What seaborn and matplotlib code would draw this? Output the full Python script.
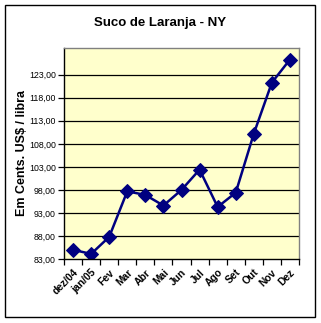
import matplotlib
matplotlib.use("Agg")
import matplotlib.pyplot as plt
import matplotlib.transforms as mtransforms
import seaborn as sns
import pandas as pd
from matplotlib.patches import Rectangle

months = ["dez/04", "jan/05", "Fev", "Mar", "Abr", "Mai", "Jun", "Jul", "Ago", "Set", "Out", "Nov", "Dez"]
prices = [85.0, 84.1, 87.8, 97.7, 96.9, 94.6, 98.0, 102.4, 94.3, 97.4, 110.2, 121.3, 126.3]
yticks = [83, 88, 93, 98, 103, 108, 113, 118, 123]
ytick_labels = ["83,00", "88,00", "93,00", "98,00", "103,00", "108,00", "113,00", "118,00", "123,00"]

sns.set_theme(style="white")
plt.rcParams['font.family'] = ['Liberation Sans', 'DejaVu Sans']
plt.rcParams['text.color'] = 'black'
plt.rcParams['xtick.color'] = 'black'
plt.rcParams['ytick.color'] = 'black'
plt.rcParams['axes.labelcolor'] = 'black'

df = pd.DataFrame({"idx": range(len(months)), "price": prices})

fig = plt.figure(figsize=(3.21, 3.23), dpi=100)
fig.patch.set_facecolor("white")
fig.patches.append(Rectangle((5/321, 1 - 317/323), 310/321, 312/323, transform=fig.transFigure,
                             fill=False, edgecolor="black", linewidth=1.0))

ax = fig.add_axes([64/321, 1 - 259/323, 235/321, 211/323])
ax.set_facecolor("#FFFFCC")

sns.lineplot(data=df, x="idx", y="price", ax=ax, color="#000080", linewidth=1.8,
             marker="D", markersize=7, markeredgecolor="#000080", markerfacecolor="#000080")

ax.set_xlim(-0.5, len(months) - 0.5)
ax.set_ylim(83, 128.8)
ax.set_yticks(yticks)
ax.set_yticklabels(ytick_labels, fontsize=6.3)
for y in yticks[1:]:
    ax.axhline(y, color="black", linewidth=0.9, zorder=0.5)

ax.set_xticks(range(len(months)))
ax.set_xticklabels(months, rotation=45, ha="right", rotation_mode="anchor",
                   fontsize=7.4, fontweight="bold")
offset = mtransforms.ScaledTranslation(-4/100, -2/100, fig.dpi_scale_trans)
for lbl in ax.get_xticklabels():
    lbl.set_transform(lbl.get_transform() + offset)
ax.set_xticks([i - 0.5 for i in range(len(months) + 1)], minor=True)
ax.tick_params(axis="x", which="major", length=0, pad=6)
ax.tick_params(axis="x", which="minor", length=4, width=0.9, color="black", direction="out", bottom=True)
ax.tick_params(axis="y", which="major", length=4, width=0.9, color="black", direction="out", left=True, pad=2)

for side in ["top", "right"]:
    ax.spines[side].set_color("#808080")
    ax.spines[side].set_linewidth(1.0)
for side in ["left", "bottom"]:
    ax.spines[side].set_color("black")
    ax.spines[side].set_linewidth(1.0)

ax.set_xlabel("")
ax.set_ylabel("Em Cents. US$ / libra", fontsize=9, fontweight="bold")
ax.yaxis.set_label_coords((28 - 64) / 235, 0.5)

fig.text(160/321, 1 - 23/323, "Suco de Laranja - NY", ha="center", va="center",
         fontsize=9.5, fontweight="bold", color="black")

fig.savefig("out.png", dpi=100)
